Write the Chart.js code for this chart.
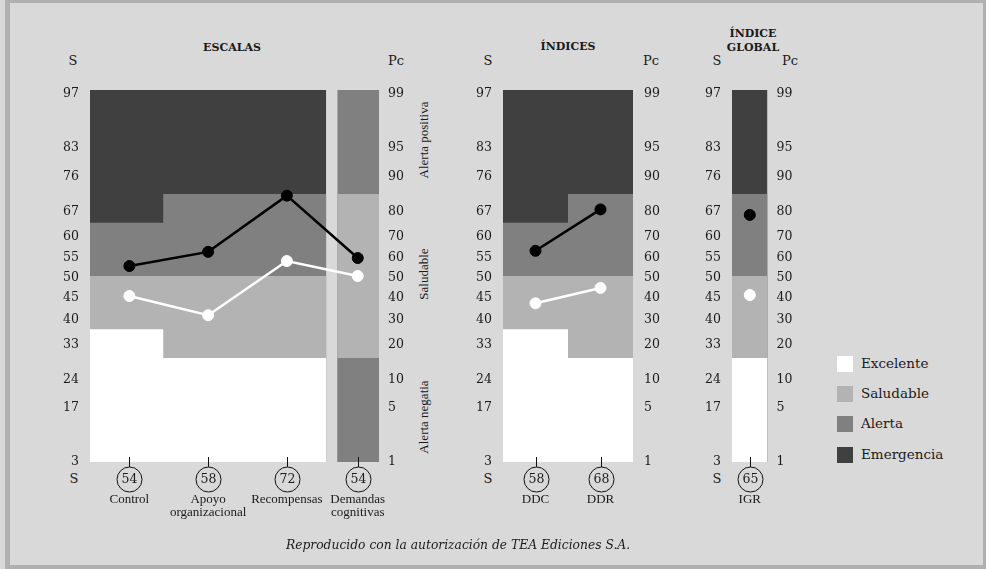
<!DOCTYPE html>
<html lang="es">
<head>
<meta charset="utf-8">
<script src="https://cdn.jsdelivr.net/npm/chart.js@4.4.1/dist/chart.umd.min.js"></script>
<style>
  body { margin: 0; background: #d9d9d9; }
  #lamina { position: relative; width: 986px; height: 569px; overflow: hidden; background: #d9d9d9; font-family: 'DejaVu Serif', serif; color: #1a1a1a; }
  #marco { position: absolute; left: 5px; top: 0; width: 981px; height: 569px; box-sizing: border-box; border-style: solid; border-color: #b0b0b0; border-width: 3px 3px 4px 5px; }
  canvas { position: absolute; top: 70px; }
  .c { position: absolute; transform: translate(-50%, -50%); white-space: nowrap; line-height: 1; }
  .l { position: absolute; transform: translateY(-50%); white-space: nowrap; line-height: 1; }
  .tit { font-weight: bold; font-size: 11px; }
  .eje { font-size: 13px; }
  .rot { font-family: 'Liberation Serif', serif; font-size: 13px; transform: translate(-50%, -50%) rotate(-90deg); }
  .cuadro { position: absolute; left: 837px; width: 16px; height: 16px; }
  .ley { font-size: 13.5px; left: 861px; }
  #pie { font-style: italic; font-size: 12.3px; }
</style>
</head>
<body>
<div id="lamina">
  <div id="marco"></div>

  <div class="c tit" style="left:232px; top:47px;">ESCALAS</div>
  <div class="c tit" style="left:568px; top:46px;">ÍNDICES</div>
  <div class="c tit" style="left:753px; top:33px;">ÍNDICE</div>
  <div class="c tit" style="left:753px; top:47px;">GLOBAL</div>

  <div class="c eje" style="left:73px; top:60px;">S</div>
  <div class="l eje" style="left:388px; top:60px;">Pc</div>
  <div class="c eje" style="left:488px; top:60px;">S</div>
  <div class="l eje" style="left:643px; top:60px;">Pc</div>
  <div class="c eje" style="left:717px; top:60px;">S</div>
  <div class="l eje" style="left:782px; top:60px;">Pc</div>

  <div class="c eje" style="left:74px; top:478px;">S</div>
  <div class="c eje" style="left:488px; top:478px;">S</div>
  <div class="c eje" style="left:717px; top:478px;">S</div>

  <div class="c rot" style="left:423px; top:140px;">Alerta positiva</div>
  <div class="c rot" style="left:423px; top:274px;">Saludable</div>
  <div class="c rot" style="left:423px; top:417px;">Alerta negatia</div>

  <canvas id="grafico-escalas" width="420" height="470" style="left:20px;"></canvas>
  <canvas id="grafico-indices" width="230" height="470" style="left:440px;"></canvas>
  <canvas id="grafico-global" width="130" height="470" style="left:680px;"></canvas>

  <div class="cuadro" style="top:356px; background:#ffffff;"></div>
  <div class="cuadro" style="top:386px; background:#b3b3b3;"></div>
  <div class="cuadro" style="top:416px; background:#808080;"></div>
  <div class="cuadro" style="top:447px; background:#404040;"></div>
  <div class="l ley" style="top:364px;">Excelente</div>
  <div class="l ley" style="top:394px;">Saludable</div>
  <div class="l ley" style="top:424px;">Alerta</div>
  <div class="l ley" style="top:455px;">Emergencia</div>

  <div id="pie" class="c" style="left:458px; top:545px;">Reproducido con la autorización de TEA Ediciones S.A.</div>
</div>

<script>
// Escala vertical: percentiles (Pc) y su equivalente en puntuación S
const PC_TICKS = [1, 5, 10, 20, 30, 40, 50, 60, 70, 80, 90, 95, 99];
const S_TICKS = [3, 17, 24, 33, 40, 45, 50, 55, 60, 67, 76, 83, 97];

// Escalas
const ESCALAS = ['Control', ['Apoyo', 'organizacional'], 'Recompensas', ['Demandas', 'cognitivas']];
const ESCALAS_S = [54, 58, 72, 54];
const ESCALAS_SUJETO = [55, 62, 84.5, 59];     // línea negra, en Pc
const ESCALAS_REF = [40, 31, 57.5, 50];        // línea blanca, en Pc
// cortes en Pc por columna: excelente | saludable | alerta | emergencia
const CORTES_ESCALAS = [[25, 50, 75], [15, 50, 85], [15, 50, 85]];
// demandas: alerta negativa | saludable | alerta positiva
const CORTES_DEMANDAS = [[15, 85]];

// Índices
const INDICES = ['DDC', 'DDR'];
const INDICES_S = [58, 68];
const INDICES_SUJETO = [62.5, 80];
const INDICES_REF = [36.5, 44];
const CORTES_INDICES = [[25, 50, 75], [15, 50, 85]];

// Índice global
const GLOBAL = ['IGR'];
const GLOBAL_S = [65];
const GLOBAL_SUJETO = [78];
const GLOBAL_REF = [40.5];
const CORTES_GLOBAL = [[15, 50, 85]];

const EXC = '#ffffff', SAL = '#b3b3b3', ALE = '#808080', EME = '#404040';
const TXT = '#1a1a1a';
const SERIF = "'DejaVu Serif', serif";
const SERIF_ESTRECHA = "'Liberation Serif', serif";
const Y_LIM = 2.35;

// percentil -> puntuación z (escala de probabilidad normal)
function probit(pc) {
    const p = pc / 100;
    if (p <= 0) return -Y_LIM;
    if (p >= 1) return Y_LIM;
    const q = p < 0.5 ? p : 1 - p;
    const t = Math.sqrt(-2 * Math.log(q));
    const z = t - (2.515517 + 0.802853 * t + 0.010328 * t * t) /
        (1 + 1.432788 * t + 0.189269 * t * t + 0.001308 * t * t * t);
    return p < 0.5 ? -z : z;
}

// círculos con la puntuación S bajo cada columna
const circulos = {
    id: 'circulos',
    afterDraw(chart, args, opts) {
        const ctx = chart.ctx;
        const xs = chart.scales.x;
        const base = chart.chartArea.bottom;
        const r = 12.5, cy = base + 17.5;
        ctx.save();
        ctx.strokeStyle = '#111';
        ctx.lineWidth = 1;
        ctx.fillStyle = TXT;
        ctx.font = "12.5px 'DejaVu Serif', serif";
        ctx.textAlign = 'center';
        ctx.textBaseline = 'middle';
        xs.ticks.forEach((t, i) => {
            const x = Math.round(xs.getPixelForValue(t.value)) + 0.5;
            ctx.beginPath();
            ctx.moveTo(x, base - 5);
            ctx.lineTo(x, cy - r);
            ctx.stroke();
            ctx.beginPath();
            ctx.arc(x, cy, r, 0, Math.PI * 2);
            ctx.stroke();
            ctx.fillText(String(opts.valores[i]), x, cy + 0.5);
        });
        ctx.restore();
    }
};

// capas de fondo (zonas) como líneas escalonadas rellenas hasta la base
function capas(bordes, cortes, colores) {
    const out = [];
    for (let k = colores.length - 1; k >= 0; k--) {
        const sup = c => k < c.length ? c[k] : 100;
        const data = cortes.map((c, i) => ({ x: bordes[i], y: probit(sup(c)) }));
        data.push({ x: bordes[bordes.length - 1], y: probit(sup(cortes[cortes.length - 1])) });
        out.push({
            type: 'line', data, stepped: true,
            fill: { value: -Y_LIM },
            backgroundColor: colores[k],
            borderColor: 'rgba(0,0,0,0)', borderWidth: 0,
            pointRadius: 0, order: 10 + k
        });
    }
    return out;
}

function serie(colX, valores, color, conectar, orden) {
    return {
        type: 'line',
        data: colX.map((x, i) => ({ x, y: probit(valores[i]) })),
        borderColor: color, backgroundColor: color,
        pointBackgroundColor: color, pointBorderColor: color,
        borderWidth: 2.5, pointRadius: 5.5, pointBorderWidth: 1,
        showLine: conectar, fill: false, order: orden
    };
}

function ejeY(pos, ancho, etiquetas, padding) {
    return {
        type: 'linear', position: pos, min: -Y_LIM, max: Y_LIM,
        grid: { display: false, drawTicks: false }, border: { display: false },
        afterBuildTicks: s => { s.ticks = PC_TICKS.map(pc => ({ value: probit(pc) })); },
        afterFit: s => { s.width = ancho; },
        ticks: {
            autoSkip: false, padding, labelOffset: 2, color: TXT,
            font: { family: SERIF, size: 12.5 },
            callback: (v, i) => String(etiquetas[i])
        }
    };
}

function crearPanel(id, p) {
    const datasets = [];
    p.bloques.forEach(b => datasets.push(...capas(b.bordes, b.cortes, b.colores)));
    datasets.push(serie(p.colX, p.sujeto, '#000000', p.conectar, 1));
    datasets.push(serie(p.colX, p.ref, '#ffffff', p.conectar, 0));

    return new Chart(document.getElementById(id).getContext('2d'), {
        type: 'line',
        data: { datasets },
        options: {
            responsive: false,
            animation: false,
            layout: { padding: { top: 20, left: 0, right: 0, bottom: 0 } },
            scales: {
                x: {
                    type: 'linear', min: 0, max: p.xMax,
                    grid: { display: false, drawTicks: false }, border: { display: false },
                    afterBuildTicks: s => { s.ticks = p.colX.map(v => ({ value: v })); },
                    afterFit: s => { s.height = 78; },
                    ticks: {
                        autoSkip: false, maxRotation: 0, padding: 31, color: TXT,
                        font: { family: SERIF_ESTRECHA, size: 13, lineHeight: 1.02 },
                        callback: (v, i) => p.etiquetas[i]
                    }
                },
                y: ejeY('left', p.izq, S_TICKS, 11),
                y2: ejeY('right', p.der, PC_TICKS, p.padDer)
            },
            plugins: {
                legend: { display: false },
                tooltip: { enabled: false },
                circulos: { valores: p.valoresS }
            }
        },
        plugins: [circulos]
    });
}

crearPanel('grafico-escalas', {
    izq: 70, der: 61, padDer: 9, xMax: 3.67,
    colX: [0.5, 1.5, 2.5, 3.4],
    bloques: [
        { bordes: [0, 0.93, 2, 3], cortes: CORTES_ESCALAS, colores: [EXC, SAL, ALE, EME] },
        { bordes: [3.14, 3.67], cortes: CORTES_DEMANDAS, colores: [ALE, SAL, ALE] }
    ],
    sujeto: ESCALAS_SUJETO, ref: ESCALAS_REF, conectar: true,
    etiquetas: ESCALAS, valoresS: ESCALAS_S
});

crearPanel('grafico-indices', {
    izq: 63, der: 37, padDer: 11, xMax: 2,
    colX: [0.5, 1.5],
    bloques: [{ bordes: [0, 1, 2], cortes: CORTES_INDICES, colores: [EXC, SAL, ALE, EME] }],
    sujeto: INDICES_SUJETO, ref: INDICES_REF, conectar: true,
    etiquetas: INDICES, valoresS: INDICES_S
});

crearPanel('grafico-global', {
    izq: 52, der: 36, padDer: 9, xMax: 1,
    colX: [0.5],
    bloques: [{ bordes: [0, 1], cortes: CORTES_GLOBAL, colores: [EXC, SAL, ALE, EME] }],
    sujeto: GLOBAL_SUJETO, ref: GLOBAL_REF, conectar: false,
    etiquetas: GLOBAL, valoresS: GLOBAL_S
});
</script>
</body>
</html>
